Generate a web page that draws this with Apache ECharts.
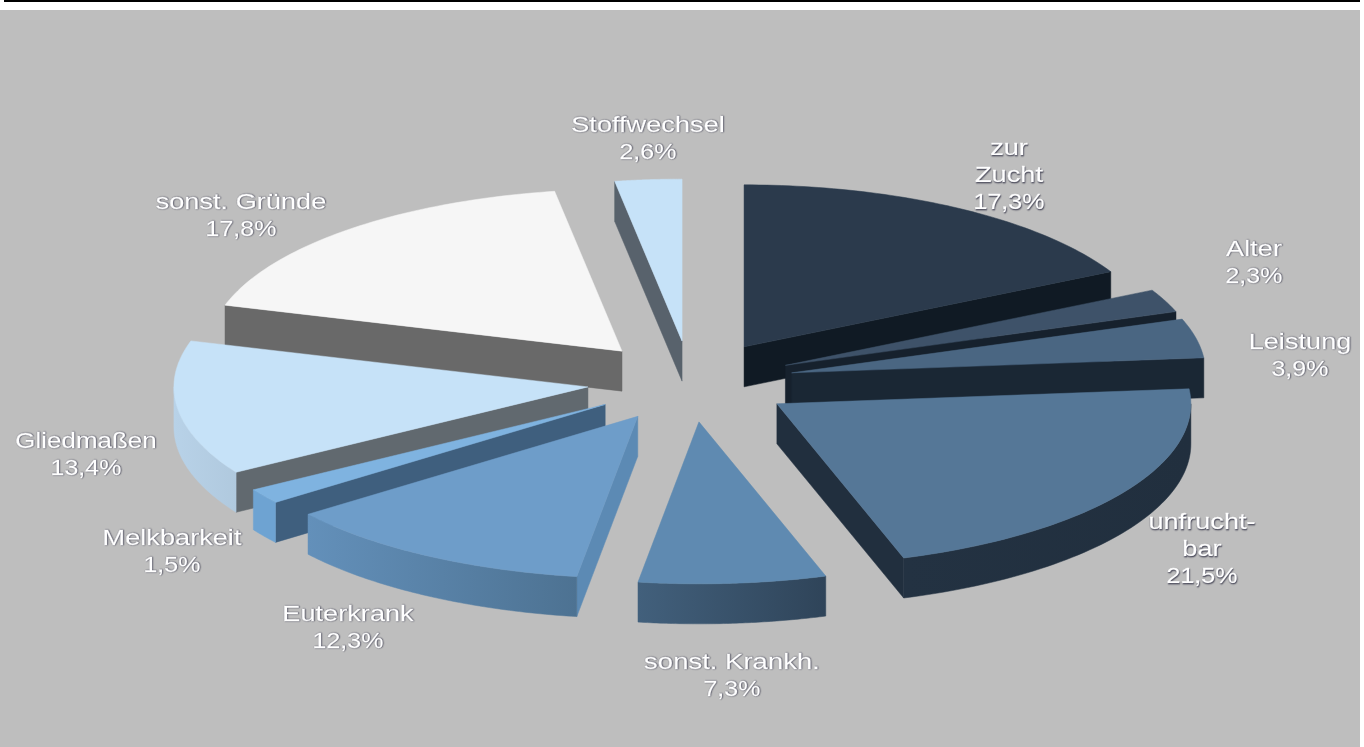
<!DOCTYPE html>
<html><head><meta charset="utf-8">
<style>html,body{margin:0;padding:0;background:#fff}#c{width:1364px;height:747px}</style>
<script src="https://cdn.jsdelivr.net/npm/echarts@6/dist/echarts.min.js"></script>
</head><body><div id="c"></div>
<script>
var categories = ['zur\nZucht','Alter','Leistung','unfrucht-\nbar','sonst. Krankh.','Euterkrank','Melkbarkeit','Gliedmaßen','sonst. Gründe','Stoffwechsel'];
var values = [17.3,2.3,3.9,21.5,7.3,12.3,1.5,13.4,17.8,2.6];
var topColors = ['#2b3a4c','#3e5269','#4a6682','#557797','#5f8ab1','#6e9dc9','#7fb3e0','#c6e2f8','#f6f6f6','#c6e2f8'];
var sideColors = ['#101a24','#16212d','#1a2734','#212f3e','#2f4459','#5c8ab4','#3f5f7e','#61696f','#696969','#58626c'];
var rimLeft = ['#101a24','#16212d','#1a2734','#233242','#42607c','#6390ba','#6ea3d2','#b8d2e8','#cccccc','#b8d2e8'];
var rimRight = ['#101a24','#16212d','#1a2734','#212f3e','#2f4459','#4d7292','#6ea3d2','#b0c9de','#cccccc','#b8d2e8'];
var labelX = [1009,1254,1300,1202,732,348,172,86,241,648];
var labelY = [176,263,356,550,676,628,552,455,216,139];
var labelScale = [1.235,1.235,1.235,1.235,1.25,1.235,1.235,1.18,1.235,1.235];

var CX=690.5, CY=381.5, RX=414, RY=162, DEPTH=40, EXPLODE=0.25, LINE=27;
var total = values.reduce(function(a,b){return a+b;},0);
var starts = [], run = 0;
values.forEach(function(v){ starts.push(run); run += v; });
function ang(p){ return p/total*Math.PI*2; }
function midV(i){ return -Math.cos(ang(starts[i]+values[i]/2)); }
var order = values.map(function(_,i){return i;}).sort(function(a,b){return midV(a)-midV(b);});

function renderItem(params, api){
  var i = api.value(1), val = api.value(0);
  var a1 = ang(starts[i]), a2 = ang(starts[i]+val), m=(a1+a2)/2;
  var ax = CX + EXPLODE*RX*Math.sin(m), ay = CY - EXPLODE*RY*Math.cos(m);
  function pt(a,dz){ return [ax+RX*Math.sin(a), ay-RY*Math.cos(a)+(dz||0)]; }
  var kids = [];
  function poly(points, fill){ kids.push({type:'polygon',shape:{points:points},style:{fill:fill,stroke:fill,lineWidth:0.5}}); }
  function wall(a){
    poly([[ax,ay],pt(a),pt(a,DEPTH),[ax,ay+DEPTH]], sideColors[i]);
  }
  if (Math.sin(a2) > 0.001) wall(a2);
  if (-Math.sin(a1) > 0.001) wall(a1);
  var r1 = Math.max(a1, Math.PI/2), r2 = Math.min(a2, Math.PI*1.5), N = 60, k;
  if (r2 > r1){
    var up=[], dn=[];
    for(k=0;k<=N;k++){ var a=r1+(r2-r1)*k/N; up.push(pt(a)); dn.unshift(pt(a,DEPTH)); }
    poly(up.concat(dn), new echarts.graphic.LinearGradient(0,0,1,0,[{offset:0,color:rimLeft[i]},{offset:1,color:rimRight[i]}]));
  }
  var face=[[ax,ay]];
  for(k=0;k<=N;k++){ face.push(pt(a1+(a2-a1)*k/N)); }
  poly(face, topColors[i]);
  return {type:'group',children:kids};
}
function textStyle(t){
  return {text:t,fill:'#fff',font:'22px "Liberation Sans"',align:'center',verticalAlign:'middle',
    stroke:'#ffffff',lineWidth:0.4,
    textShadowColor:'rgba(40,40,60,0.85)',textShadowBlur:1.5,textShadowOffsetX:0.5,textShadowOffsetY:0.5};
}
function renderLabel(params, api){
  var i = api.value(1);
  var lines = categories[i].split('\n');
  var pct = api.value(0).toFixed(1).replace('.',',')+'%';
  var top = labelY[i] - (lines.length)*LINE/2;
  var kids = lines.map(function(s,n){
    return {type:'text',x:labelX[i],y:top+n*LINE,scaleX:labelScale[i],style:textStyle(s)};
  });
  kids.push({type:'text',x:labelX[i],y:top+lines.length*LINE,scaleX:1.14,style:textStyle(pct)});
  return {type:'group',children:kids};
}
var chart = echarts.init(document.getElementById('c'),null,{renderer:'canvas'});
var sliceData = order.map(function(i){return [values[i],i];});
chart.setOption({
  animation:false,
  backgroundColor:'#bebebe',
  graphic:[
    {type:'rect',silent:true,z:10,shape:{x:0,y:0,width:1364,height:10},style:{fill:'#ffffff'}},
    {type:'rect',silent:true,z:11,shape:{x:1360,y:0,width:4,height:747},style:{fill:'#ffffff'}},
    {type:'rect',silent:true,z:12,shape:{x:4,y:0,width:1356,height:2},style:{fill:'#000000'}}
  ],
  series:[
    {type:'custom',coordinateSystem:'none',silent:true,renderItem:renderItem,data:sliceData,z:2},
    {type:'custom',coordinateSystem:'none',silent:true,renderItem:renderLabel,data:sliceData,z:3}
  ]
});
</script></body></html>
